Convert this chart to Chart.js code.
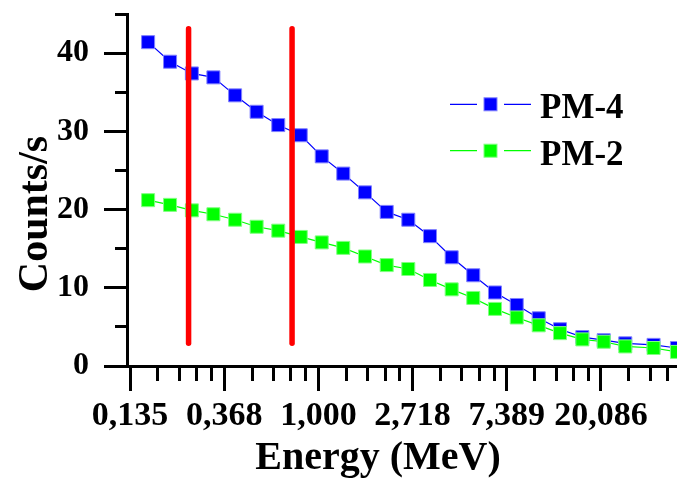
<!DOCTYPE html>
<html>
<head>
<meta charset="utf-8">
<title>Counts vs energy</title>
<script src="https://cdn.jsdelivr.net/npm/chart.js@4.4.1/dist/chart.umd.min.js"></script>
<style>
  html, body { margin: 0; padding: 0; background: #fff; }
  #wrap { position: relative; width: 677px; height: 485px; overflow: hidden; }
</style>
</head>
<body>
<div id="wrap"><canvas id="spectrum"></canvas></div>
<script>
  // ---- DATA ----
  const energyMeV = [0.164, 0.207, 0.261, 0.328, 0.413, 0.519, 0.653, 0.829, 1.036, 1.302,
                     1.640, 2.065, 2.597, 3.270, 4.116, 5.176, 6.520, 8.21, 10.37, 13.0,
                     16.48, 20.68, 26.0, 35.1, 45.0];
  const countsPM4 = [41.4, 38.9, 37.4, 36.9, 34.6, 32.5, 30.8, 29.5, 26.8, 24.6,
                     22.2, 19.7, 18.7, 16.6, 13.9, 11.6, 9.4, 7.8, 6.1, 4.7,
                     3.7, 3.3, 2.9, 2.7, 2.3];
  const countsPM2 = [21.2, 20.6, 19.9, 19.4, 18.7, 17.8, 17.3, 16.5, 15.8, 15.1,
                     14.0, 12.9, 12.4, 11.0, 9.8, 8.7, 7.3, 6.2, 5.2, 4.2,
                     3.4, 3.1, 2.5, 2.3, 1.8];
  const cutEnergy = [0.252, 0.756];        // red marker lines (MeV)
  const cutRange = [2.9, 43.1];            // counts/s span of the marker lines
  const xTickLn = [-2, -1, 0, 1, 2, 3];    // ln(E) of labelled ticks
  const xTickLabels = ['0,135', '0,368', '1,000', '2,718', '7,389', '20,086'];
  const yTickLabels = [0, 10, 20, 30, 40];
  const xTitle = 'Energy (MeV)';
  const yTitle = 'Counts/s';

  // ---- STYLE ----
  const serif = '"Liberation Serif", "Times New Roman", serif';
  const blue = '#0000ff', green = '#00ff00', red = '#ff0000';
  const lnMin = -2.032, lnMax = 3.807;

  const isMajor = v => xTickLn.some(t => Math.abs(t - v) < 1e-9);

  // major ticks at e^k, four minor ticks linearly spaced between them
  function buildXTicks(min, max) {
    const out = [];
    for (let k = Math.floor(min); k < Math.ceil(max); k++) {
      const a = Math.exp(k), b = Math.exp(k + 1);
      for (let j = 0; j < 5; j++) {
        const v = j === 0 ? k : Math.log(a + j * (b - a) / 5);
        if (v >= min && v <= max) out.push({ value: v });
      }
    }
    return out;
  }

  function toPoints(ys) {
    return energyMeV.map((e, i) => ({ x: Math.log(e), y: ys[i] }));
  }

  function seriesStyle(color, edge) {
    return {
      borderColor: color, borderWidth: 1.2, tension: 0, fill: false,
      pointStyle: 'rect', pointRadius: 9.2, pointHoverRadius: 9.2,
      pointBackgroundColor: color, pointBorderColor: edge, pointBorderWidth: 1
    };
  }

  const datasets = [
    { label: 'PM-4', data: toPoints(countsPM4), order: 2, ...seriesStyle(blue, '#8080ff') },
    { label: 'PM-2', data: toPoints(countsPM2), order: 1, ...seriesStyle(green, '#80ff80') }
  ];
  cutEnergy.forEach(e => {
    datasets.push({
      label: '', cut: true, order: 0,
      data: cutRange.map(y => ({ x: Math.log(e), y })),
      borderColor: red, borderWidth: 5.5, borderCapStyle: 'round', pointRadius: 0
    });
  });

  // ---- LEGEND (inside plot, line-marker-line) ----
  const insideLegend = {
    id: 'insideLegend',
    afterDatasetsDraw(chart) {
      const { ctx, chartArea } = chart;
      const x0 = chartArea.left + 323, y0 = chartArea.top + 90.3;
      let row = 0;
      chart.data.datasets.forEach(ds => {
        if (ds.cut) return;
        const y = y0 + row * 46.4;
        ctx.save();
        ctx.strokeStyle = ds.borderColor;
        ctx.lineWidth = 1.2;
        ctx.beginPath();
        ctx.moveTo(x0, y); ctx.lineTo(x0 + 27, y);
        ctx.moveTo(x0 + 54, y); ctx.lineTo(x0 + 81, y);
        ctx.stroke();
        ctx.fillStyle = ds.pointBackgroundColor;
        ctx.strokeStyle = ds.pointBorderColor;
        ctx.lineWidth = 1;
        ctx.fillRect(x0 + 34, y - 6.5, 13, 13);
        ctx.strokeRect(x0 + 34, y - 6.5, 13, 13);
        ctx.fillStyle = '#000';
        ctx.font = 'bold 35px ' + serif;
        ctx.textBaseline = 'alphabetic';
        ctx.fillText(ds.label, x0 + 90, y + 14);
        ctx.restore();
        row++;
      });
    }
  };

  // ---- AXIS TITLES ----
  const axisTitles = {
    id: 'axisTitles',
    afterDraw(chart) {
      const { ctx, chartArea } = chart;
      ctx.save();
      ctx.fillStyle = '#000';
      ctx.font = 'bold 40px ' + serif;
      ctx.textAlign = 'center';
      ctx.textBaseline = 'alphabetic';
      ctx.fillText(xTitle, chartArea.left + 251, chartArea.bottom + 103);
      ctx.translate(47, chartArea.top + 200);
      ctx.rotate(-Math.PI / 2);
      ctx.font = 'bold 42px ' + serif;
      ctx.fillText(yTitle, 0, 0);
      ctx.restore();
    }
  };

  // ---- CHART ----
  new Chart(document.getElementById('spectrum'), {
    type: 'line',
    data: { datasets },
    plugins: [insideLegend, axisTitles],
    options: {
      responsive: true,
      maintainAspectRatio: false,
      animation: false,
      layout: { autoPadding: false, padding: { top: 14, right: 0, bottom: 0, left: 0 } },
      plugins: { legend: { display: false }, tooltip: { enabled: false } },
      scales: {
        x: {
          type: 'linear', min: lnMin, max: lnMax,
          afterBuildTicks: s => { s.ticks = buildXTicks(s.min, s.max); },
          afterFit: s => { s.height = 119; s.paddingLeft = 0; s.paddingRight = 0; },
          border: { color: '#000', width: 3 },
          grid: {
            drawOnChartArea: false, tickLength: 25, tickWidth: 3, tickColor: '#000',
            tickBorderDash: c => (c.tick && isMajor(c.tick.value)) ? [] : [13, 100]
          },
          ticks: {
            autoSkip: false, maxRotation: 0, padding: 5, color: '#000',
            font: { family: serif, size: 34, weight: 'bold' },
            callback: v => {
              const i = xTickLn.findIndex(t => Math.abs(t - v) < 1e-9);
              return i < 0 ? '' : xTickLabels[i];
            }
          }
        },
        y: {
          min: 0, max: 45,
          afterFit: s => { s.width = 127; s.paddingTop = 0; s.paddingBottom = 0; },
          border: { color: '#000', width: 3 },
          grid: {
            drawOnChartArea: false, tickLength: 23, tickWidth: 3, tickColor: '#000',
            tickBorderDash: c => (c.tick && yTickLabels.includes(c.tick.value)) ? [] : [11, 11],
            tickBorderDashOffset: c => (c.tick && yTickLabels.includes(c.tick.value)) ? 0 : 11
          },
          ticks: {
            stepSize: 5, autoSkip: false, padding: 15, color: '#000',
            font: { family: serif, size: 32, weight: 'bold' },
            callback: v => yTickLabels.includes(v) ? String(v) : ''
          }
        }
      }
    }
  });
</script>
</body>
</html>
